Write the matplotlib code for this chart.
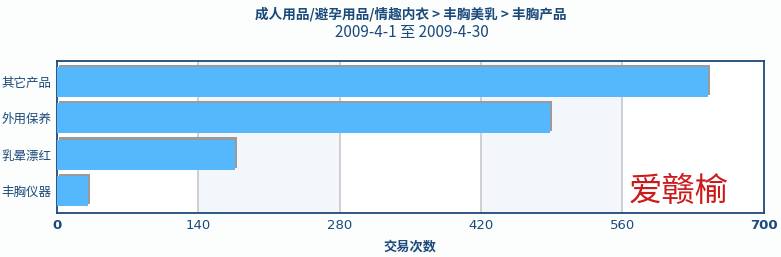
import matplotlib
matplotlib.use("Agg")
import matplotlib.pyplot as plt
import matplotlib.patheffects as pe

plt.rcParams["font.family"] = ["Noto Sans CJK SC", "DejaVu Sans"]

categories = ["其它产品", "外用保养", "乳晕漂红", "丰胸仪器"]
counts = [645, 488, 176, 31]
x_ticks = [0, 140, 280, 420, 560, 700]

title_line1 = "成人用品/避孕用品/情趣内衣 > 丰胸美乳 > 丰胸产品"
title_line2 = "2009-4-1 至 2009-4-30"
x_label = "交易次数"
watermark = "爱赣榆"

text_color = "#1b4a7a"
bar_color = "#55b8fc"
band_color = "#f3f6fa"

fig = plt.figure(figsize=(7.81, 2.57), dpi=100)
fig.patch.set_facecolor("#fcfefe")
ax = fig.add_axes([0.073, 0.171, 0.905, 0.592])
ax.set_facecolor("white")

# alternating background bands
for i in range(len(x_ticks) - 1):
    if i % 2 == 1:
        ax.axvspan(x_ticks[i], x_ticks[i + 1], color=band_color, zorder=0, lw=0)

for t in x_ticks[1:-1]:
    ax.axvline(t, color="#c8c8cc", lw=1.2, zorder=1)

positions = list(range(len(categories)))
ax.barh(
    positions,
    counts,
    height=0.83,
    color=bar_color,
    zorder=3,
    path_effects=[pe.SimplePatchShadow(offset=(1.5, 1.5), shadow_rgbFace="#9a9a9a", alpha=1.0), pe.Normal()],
)

ax.set_xlim(0, 700)
ax.set_ylim(3.605, -0.578)
ax.set_xticks(x_ticks)
ax.set_xticklabels([str(t) for t in x_ticks])
for lab in ax.get_xticklabels():
    lab.set_color(text_color)
    lab.set_fontsize(9.5)
    lab.set_family(["DejaVu Sans"])
ax.get_xticklabels()[0].set_fontweight("bold")
ax.get_xticklabels()[-1].set_fontweight("bold")

ax.set_yticks(positions)
ax.set_yticklabels(categories, color=text_color, fontsize=9)
ax.tick_params(axis="both", length=0, pad=4)

for s in ax.spines.values():
    s.set_color("#1b4a7a")
    s.set_linewidth(1.3)

ax.set_xlabel(x_label, color=text_color, fontsize=9.5, fontweight="bold", labelpad=6)

fig.text(0.526, 0.945, title_line1, ha="center", va="center", color=text_color,
         fontsize=9.8, fontweight="bold")
fig.text(0.527, 0.875, title_line2, ha="center", va="center", color=text_color,
         fontsize=11)

ax.text(0.88, 0.14, watermark, transform=ax.transAxes, ha="center", va="center",
        color="#cc1a1a", fontsize=24, zorder=5)

fig.savefig("out.png", dpi=100, facecolor=fig.get_facecolor())
